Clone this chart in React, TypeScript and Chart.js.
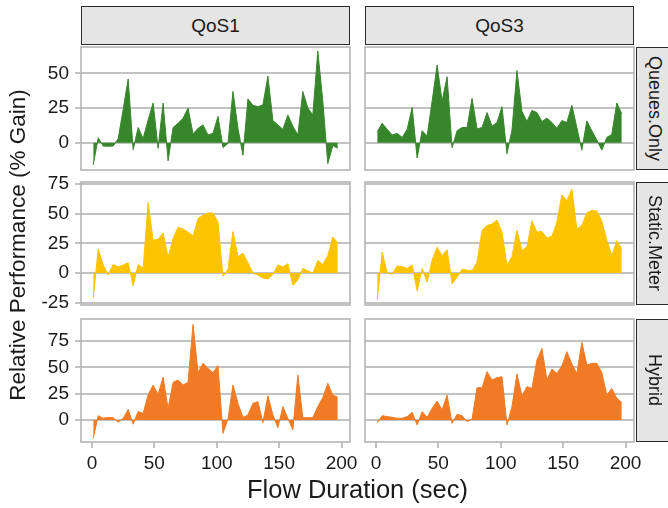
import React, { useEffect, useRef } from "react";
import { Chart, registerables } from "chart.js";

Chart.register(...registerables);

// ---------------- data ----------------
const flowDuration = [
  1, 5, 9, 13, 17, 21, 25, 29, 33, 37, 41, 45, 49, 53, 57, 61, 65, 69, 73, 77,
  81, 85, 89, 93, 97, 101, 105, 109, 113, 117, 121, 125, 129, 133, 137, 141, 145, 149, 153, 157,
  161, 165, 169, 173, 177, 181, 185, 189, 193, 197,
];

const qos1QueuesOnly = [
  -16, 3.6, -2.4, -2.5, -2.3, 3, 24, 46, -5, 11,
  3, 16.5, 28.6, -4, 28.6, -13, 11, 14, 17.7, 25,
  6.3, 10.4, 12.9, 5.6, 6.8, 19, -3.4, -0.5, 37, 10.4,
  -9, 31.6, 27, 26, 27.4, 48, 16, 12.9, 9.7, 20,
  12, 5.6, 37, 25, 20, 66, 30, -15, -2, -4,
];
const qos3QueuesOnly = [
  8, 14, 9.7, 5.6, 6.8, 3.9, 9.7, 25.5, -11, 8.7,
  4.9, 30, 56, 30, 47.6, -3.6, 8.7, 11, 11, 32,
  10, 11, 21.8, 12, 14.6, 26, -7.8, 9.2, 52, 22.6,
  15.3, 23.3, 21.8, 15.3, 17.7, 14.6, 10.4, 16, 14.6, 27,
  11, -5.3, 15.8, 8.7, 2, -5.3, 3.9, 6, 28.6, 20.9,
];
const qos1StaticMeter = [
  -21, 20.4, 7, -1.6, 7.3, 5.2, 6.8, 8.7, -10.9, 7.3,
  4, 59.5, 27.7, 28.5, 33.7, 13.6, 29, 38.6, 37, 34.5,
  31.2, 46, 48.6, 50.5, 50.5, 43, -2.7, 3.3, 35, 14,
  16.8, 8.7, 0, -1.6, -4, -4.9, -1, 6.8, 5.2, 7.9,
  -10.3, -5.7, 4, 1.9, 0, 10.6, 7.3, 14.7, 30.4, 25.5,
];
const qos3StaticMeter = [
  -22.5, 17.7, 0, -0.8, 6, 5.4, 4, 6.8, -15, 4,
  -7.6, 10.9, 21.7, 14.7, 19.6, -9, -3.5, 3.3, 2.4, 1.9,
  9.2, 35.9, 40, 41.3, 44.6, 34.5, 6.5, 14, 35.9, 19,
  22.3, 44, 34.5, 35, 29.6, 31, 42.7, 65.8, 60.9, 70.6,
  37, 40, 50.8, 52.7, 52.2, 44, 27.7, 14.7, 27.2, 20.4,
];
const qos1Hybrid = [
  -17.4, 4.1, 1.6, 2.5, 2.2, -2.2, 1.6, 10, -4, 8,
  6.3, 23.7, 33.2, 24.4, 40.5, 11, 35.8, 38, 33.2, 35.8,
  90.8, 45, 53.8, 49, 45, 51.6, -12.7, 1, 33.2, 15.8,
  2.5, 4.7, 15.8, 17.4, -2.5, 23, 4.7, -7.3, 12.7, 1.6,
  -9.5, 42.7, 2.2, 2.2, 2.2, 12.7, 21.2, 34.8, 23.7, 21.5,
];
const qos3Hybrid = [
  -2.5, 4.1, 3.2, 2.5, 1.6, 1.6, 3.2, 7.3, -4.7, 8,
  2.5, 11, 18, 9.5, 23.7, -3.2, 5.4, 4.1, -1.6, 1,
  30.7, 30.7, 45.9, 38, 40.2, 41.1, -4.7, 12.7, 43.7, 22.8,
  31.6, 30, 57, 68, 38, 48.4, 44.3, 51.3, 64.9, 53.2,
  44.3, 73.7, 52.2, 53.8, 53.8, 45, 23.7, 30, 20.6, 16.5,
];

const columnLabels = ["QoS1", "QoS3"];
const rowLabels = ["Queues.Only", "Static.Meter", "Hybrid"];
const xTicks = [0, 50, 100, 150, 200];
const queuesTicks = [0, 25, 50];
const staticTicks = [-25, 0, 25, 50, 75];
const hybridTicks = [0, 25, 50, 75];

// ---------------- style / layout ----------------
const FONT = "'Liberation Sans', Arial, Helvetica, sans-serif";
const GRID = "#c2c2c2";
const BORDER = "#b5b5b5";
const TEXT = "#1a1a1a";
const ROW_COLORS = ["#38862c", "#fcc300", "#f07b24"];
const ROW_TICKS = [queuesTicks, staticTicks, hybridTicks];
const ROW_RANGES: [number, number][] = [[-19.6, 69], [-26.8, 76.6], [-20.9, 95.9]];
const X_RANGE: [number, number] = [-8.8, 206.8];

const ROW_TOPS = [47, 182, 319];
const PANEL_H = 123;
const COL_LEFTS = [81, 365];
const PANEL_W = 269;
const PAD = 24;
const Y_AXIS_W = 81;
const X_AXIS_H = 40;

const borderPlugin = {
  id: "panelBorder",
  afterDraw(chart: any) {
    const { ctx, chartArea } = chart;
    ctx.save();
    ctx.strokeStyle = BORDER;
    ctx.lineWidth = 1.6;
    ctx.strokeRect(chartArea.left, chartArea.top, chartArea.right - chartArea.left, chartArea.bottom - chartArea.top);
    ctx.restore();
  },
};

function Panel({ row, col, values }: { row: number; col: number; values: number[] }) {
  const ref = useRef<HTMLCanvasElement>(null);
  const isLeft = col === 0;
  const isBottom = row === 2;
  const padL = isLeft ? 0 : 20;
  const padR = 20;
  const yW = isLeft ? Y_AXIS_W : 0;
  const xH = isBottom ? X_AXIS_H : 0;
  const padB = isBottom ? 10 : PAD;
  const cw = padL + yW + PANEL_W + padR;
  const ch = PAD + PANEL_H + xH + padB;
  const left = COL_LEFTS[col] - yW - padL;
  const top = ROW_TOPS[row] - PAD;

  useEffect(() => {
    const color = ROW_COLORS[row];
    const yTicks = ROW_TICKS[row];
    const chart = new Chart(ref.current as HTMLCanvasElement, {
      type: "line",
      data: {
        datasets: [
          {
            data: flowDuration.map((x, i) => ({ x, y: values[i] })),
            borderColor: color,
            backgroundColor: color,
            borderWidth: 1,
            pointRadius: 0,
            fill: "origin",
            tension: 0,
          },
        ],
      },
      options: {
        animation: false,
        responsive: false,
        events: [],
        layout: { padding: { left: padL, right: padR, top: PAD, bottom: padB } },
        plugins: { legend: { display: false }, tooltip: { enabled: false } },
        scales: {
          x: {
            type: "linear",
            min: X_RANGE[0],
            max: X_RANGE[1],
            display: isBottom,
            afterBuildTicks: (s: any) => {
              s.ticks = xTicks.map((v) => ({ value: v }));
            },
            afterFit: (s: any) => {
              s.height = xH;
            },
            grid: { drawOnChartArea: false, drawTicks: true, tickLength: 6, tickColor: GRID, tickWidth: 2, lineWidth: 2, color: GRID },
            border: { display: false },
            ticks: {
              font: { family: FONT, size: 19 },
              color: TEXT,
              padding: 4,
              maxRotation: 0,
              autoSkip: false,
              callback: (v: any) => String(v),
            },
          },
          y: {
            type: "linear",
            min: ROW_RANGES[row][0],
            max: ROW_RANGES[row][1],
            afterBuildTicks: (s: any) => {
              s.ticks = yTicks.map((v) => ({ value: v }));
            },
            afterFit: (s: any) => {
              s.width = yW;
            },
            grid: { color: GRID, lineWidth: 2, drawTicks: isLeft, tickLength: 6, tickColor: GRID, tickWidth: 2 },
            border: { display: false },
            ticks: {
              display: isLeft,
              autoSkip: false,
              font: { family: FONT, size: 19 },
              color: TEXT,
              padding: 6,
              callback: (v: any) => String(v),
            },
          },
        },
      } as any,
      plugins: [borderPlugin],
    });
    return () => chart.destroy();
  }, []);

  return (
    <canvas
      ref={ref}
      width={cw}
      height={ch}
      style={{ position: "absolute", left, top, width: cw, height: ch }}
    />
  );
}

const stripBase: React.CSSProperties = {
  position: "absolute",
  boxSizing: "border-box",
  background: "#e5e5e5",
  border: "1px solid #2b2b2b",
  display: "flex",
  alignItems: "center",
  justifyContent: "center",
  fontFamily: FONT,
  fontSize: 19,
  color: TEXT,
};

export default function App() {
  const series = [
    [qos1QueuesOnly, qos3QueuesOnly],
    [qos1StaticMeter, qos3StaticMeter],
    [qos1Hybrid, qos3Hybrid],
  ];
  return (
    <div
      style={{
        position: "absolute",
        left: 0,
        top: 0,
        width: 668,
        height: 508,
        overflow: "hidden",
        background: "#ffffff",
        fontFamily: FONT,
      }}
    >
      {series.map((rowSeries, r) =>
        rowSeries.map((vals, c) => <Panel key={`${r}-${c}`} row={r} col={c} values={vals} />)
      )}
      {columnLabels.map((lab, c) => (
        <div key={lab} style={{ ...stripBase, left: COL_LEFTS[c], top: 6, width: PANEL_W, height: 39 }}>
          {lab}
        </div>
      ))}
      {rowLabels.map((lab, r) => (
        <div key={lab} style={{ ...stripBase, left: 636, top: ROW_TOPS[r], width: 36, height: PANEL_H, fontSize: 18 }}>
          <span style={{ writingMode: "vertical-rl", whiteSpace: "nowrap" }}>{lab}</span>
        </div>
      ))}
      <div
        style={{
          position: "absolute",
          left: COL_LEFTS[0],
          width: COL_LEFTS[1] + PANEL_W - COL_LEFTS[0],
          top: 474,
          height: 30,
          lineHeight: "30px",
          textAlign: "center",
          fontSize: 25.5,
          color: TEXT,
          whiteSpace: "nowrap",
        }}
      >
        Flow Duration (sec)
      </div>
      <div
        style={{
          position: "absolute",
          left: 3,
          top: ROW_TOPS[0],
          width: 30,
          height: ROW_TOPS[2] + PANEL_H - ROW_TOPS[0],
          display: "flex",
          alignItems: "center",
          justifyContent: "center",
        }}
      >
        <div style={{ transform: "rotate(-90deg)", whiteSpace: "nowrap", fontSize: 22.5, color: TEXT, lineHeight: "30px" }}>
          Relative Performance (% Gain)
        </div>
      </div>
    </div>
  );
}
